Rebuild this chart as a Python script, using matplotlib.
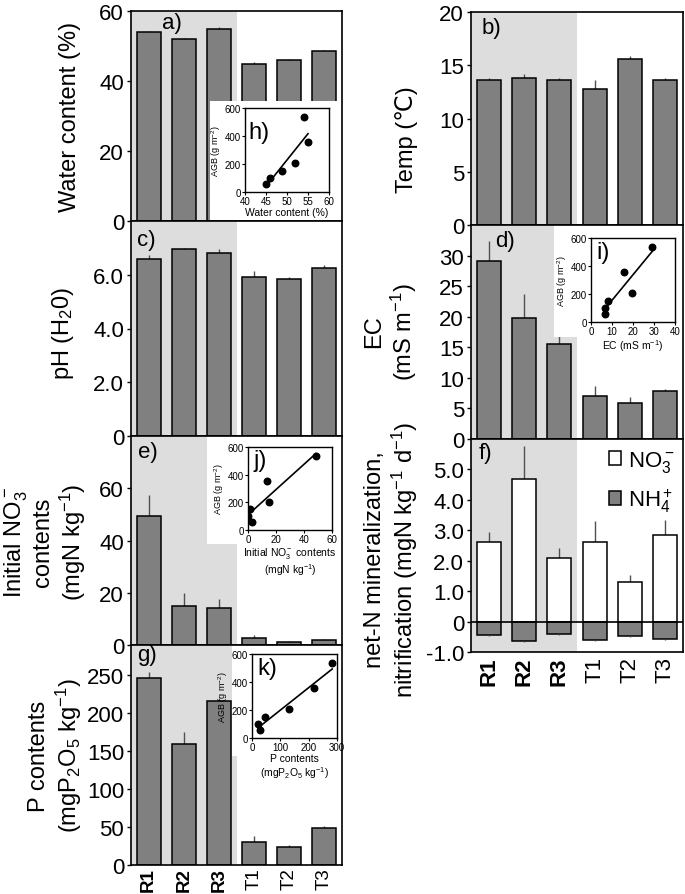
import numpy as np
import matplotlib
matplotlib.use('Agg')
import matplotlib.pyplot as plt
from matplotlib.patches import Rectangle, Patch

plt.rcParams['font.family'] = ['Liberation Sans', 'DejaVu Sans']
plt.rcParams['mathtext.fontset'] = 'custom'
plt.rcParams['mathtext.rm'] = 'Liberation Sans'
plt.rcParams['mathtext.it'] = 'Liberation Sans:italic'
plt.rcParams['mathtext.bf'] = 'Liberation Sans:bold'

# ---------------- data ----------------
sites = ['R1', 'R2', 'R3', 'T1', 'T2', 'T3']
water = [54.0, 52.0, 55.0, 45.0, 46.0, 48.7]
water_err = [0.3, 0.3, 0.3, 0.3, 0.3, 0.3]
temp = [13.6, 13.8, 13.6, 12.8, 15.6, 13.6]
temp_err = [0.2, 0.4, 0.2, 0.8, 0.3, 0.2]
ph = [6.60, 6.97, 6.82, 5.90, 5.83, 6.25]
ph_err = [0.12, 0.04, 0.15, 0.25, 0.08, 0.12]
ec = [29.1, 19.8, 15.5, 7.1, 5.9, 7.9]
ec_err = [3.3, 3.9, 1.7, 1.5, 1.0, 0.3]
no3 = [49.5, 15.0, 14.2, 2.7, 1.2, 2.0]
no3_err = [7.8, 5.0, 3.3, 1.0, 0.3, 0.3]
nitr = [2.63, 4.67, 2.08, 2.63, 1.30, 2.83]
nitr_err = [0.33, 1.10, 0.33, 0.66, 0.23, 0.51]
ammon = [-0.43, -0.63, -0.42, -0.60, -0.48, -0.56]
ammon_err = [0.03, 0.03, 0.03, 0.03, 0.03, 0.03]
p_cont = [247, 160, 216, 30, 24, 49]
p_err = [8, 15, 4, 8, 2, 2]

agb = [535, 205, 355, 57, 98, 153]
h_x = [54.0, 52.0, 55.0, 45.0, 46.0, 48.8]
i_x = [29.2, 19.5, 15.5, 6.9, 6.6, 8.2]
j_x = [48.5, 14.8, 13.8, 2.9, 0.3, 1.2]
k_x = [283, 130, 220, 28, 22, 47]

# ---------------- style ----------------
W, H = 685, 895
GRAY = '#808080'
SHADE = '#dddddd'
ERR = '#505050'
FS = 16

fig = plt.figure(figsize=(W / 100, H / 100), dpi=100)


def px_axes(x0, x1, y0, y1):
    return fig.add_axes([x0 / W, 1 - y1 / H, (x1 - x0) / W, (y1 - y0) / H])


def style_main(ax):
    for s in ax.spines.values():
        s.set_linewidth(1.2)
        s.set_zorder(10)
    ax.tick_params(axis='y', direction='out', length=3, width=1, labelsize=FS, pad=2)
    ax.tick_params(axis='x', length=0, labelsize=FS, pad=3)


def bar_panel(ax, vals, errs, ylim, yticks, yticklabels, letter, lpos, bottom=False):
    x = np.arange(len(sites))
    ax.axvspan(-0.5, 2.5, color=SHADE, zorder=0, lw=0)
    ax.bar(x, vals, width=0.68, color=GRAY, edgecolor='black', linewidth=1.1, zorder=2)
    ax.errorbar(x, vals, yerr=[np.zeros(len(x)), errs], fmt='none', ecolor=ERR,
                elinewidth=1, capsize=0, zorder=1.9)
    ax.set_xlim(-0.5, 5.5)
    ax.set_ylim(*ylim)
    ax.set_yticks(yticks)
    ax.set_yticklabels(yticklabels)
    style_main(ax)
    ax.text(lpos[0], lpos[1], letter, transform=ax.transAxes, fontsize=FS, va='top', ha='left', zorder=12)
    ax.set_xticks(x)
    if bottom:
        ax.set_xticklabels(sites, rotation=90)
        ax.tick_params(axis='x', labelsize=FS - 2.5, pad=1.5)
        for lab in ax.get_xticklabels()[:3]:
            lab.set_fontweight('bold')
    else:
        ax.set_xticklabels([])


def white_box(ax, x0, y0, x1, y1):
    ax.add_patch(Rectangle((x0, y0), x1 - x0, y1 - y0, transform=ax.transAxes,
                           facecolor='white', edgecolor='none', zorder=5))


def inset(box, xs, xlim, xticks, xlabel, letter, lpos):
    ia = px_axes(*box)
    ia.scatter(xs, agb, s=22, color='black', zorder=3)
    coef = np.polyfit(xs, agb, 1)
    xx = np.array([min(xs), max(xs)])
    ia.plot(xx, np.polyval(coef, xx), color='black', lw=1.2)
    ia.set_xlim(*xlim)
    ia.set_ylim(0, 600)
    ia.set_xticks(xticks)
    ia.set_yticks([0, 200, 400, 600])
    ia.tick_params(labelsize=7, length=2, width=0.8, pad=1)
    for s in ia.spines.values():
        s.set_linewidth(1.0)
    ia.set_ylabel('AGB (g m$^{-2}$)', fontsize=6.5, labelpad=1)
    ia.set_xlabel(xlabel, fontsize=7.5, labelpad=0.5, linespacing=1.1)
    ia.text(lpos[0], lpos[1], letter, transform=ia.transAxes, fontsize=FS + 1, va='top', ha='left')
    return ia


# ---------------- left column ----------------
LX0, LX1 = 131, 342
ax_a = px_axes(LX0, LX1, 12, 222)
ax_c = px_axes(LX0, LX1, 222, 437)
ax_e = px_axes(LX0, LX1, 437, 646)
ax_g = px_axes(LX0, LX1, 646, 866)

# ---------------- right column ----------------
RX0, RX1 = 471, 683
ax_b = px_axes(RX0, RX1, 13, 226)
ax_d = px_axes(RX0, RX1, 226, 440)
ax_f = px_axes(RX0, RX1, 440, 653)

bar_panel(ax_a, water, water_err, (0, 60), [0, 20, 40, 60], ['0', '20', '40', '60'], 'a)', (0.145, 0.995))
bar_panel(ax_c, ph, ph_err, (0, 8), [0, 2, 4, 6], ['0', '2.0', '4.0', '6.0'], 'c)', (0.03, 0.965))
bar_panel(ax_e, no3, no3_err, (0, 80), [0, 20, 40, 60], ['0', '20', '40', '60'], 'e)', (0.035, 0.975))
bar_panel(ax_g, p_cont, p_err, (0, 290), [0, 50, 100, 150, 200, 250],
          ['0', '50', '100', '150', '200', '250'], 'g)', (0.03, 1.005), bottom=True)
bar_panel(ax_b, temp, temp_err, (0, 20), [0, 5, 10, 15, 20], ['0', '5', '10', '15', '20'], 'b)', (0.05, 0.975))
bar_panel(ax_d, ec, ec_err, (0, 35), [0, 5, 10, 15, 20, 25, 30],
          ['0', '5', '10', '15', '20', '25', '30'], 'd)', (0.115, 0.975))

# panel f: net N mineralization / nitrification
xf = np.arange(len(sites))
ax_f.axvspan(-0.5, 2.5, color=SHADE, zorder=0, lw=0)
ax_f.bar(xf, nitr, width=0.68, color='white', edgecolor='black', linewidth=1.1, zorder=2)
ax_f.bar(xf, ammon, width=0.68, color=GRAY, edgecolor='black', linewidth=1.1, zorder=2)
ax_f.errorbar(xf, nitr, yerr=[np.zeros(6), nitr_err], fmt='none', ecolor=ERR, elinewidth=1, capsize=0, zorder=1.9)
ax_f.errorbar(xf, ammon, yerr=[ammon_err, np.zeros(6)], fmt='none', ecolor=ERR, elinewidth=1, capsize=0, zorder=3)
ax_f.axhline(0, color='black', lw=1.2, zorder=4)
ax_f.set_xlim(-0.5, 5.5)
ax_f.set_ylim(-1, 6)
ax_f.set_yticks([-1, 0, 1, 2, 3, 4, 5])
ax_f.set_yticklabels(['-1.0', '0', '1.0', '2.0', '3.0', '4.0', '5.0'])
style_main(ax_f)
ax_f.set_xticks(xf)
ax_f.set_xticklabels(sites, rotation=90)
for lab in ax_f.get_xticklabels()[:3]:
    lab.set_fontweight('bold')
ax_f.text(0.035, 0.985, 'f)', transform=ax_f.transAxes, fontsize=FS, va='top', ha='left', zorder=12)
leg = ax_f.legend(handles=[Patch(facecolor='white', edgecolor='black', lw=1.1),
                           Patch(facecolor=GRAY, edgecolor='black', lw=1.1)],
                  labels=['NO$_3^-$', 'NH$_4^+$'], loc='upper right', bbox_to_anchor=(1.0, 0.995),
                  frameon=False, fontsize=FS, handlelength=0.55, handleheight=0.55,
                  handletextpad=0.3, labelspacing=0.55, borderaxespad=0)

# ---------------- white boxes behind insets ----------------
white_box(ax_a, 0.374, 0.0, 1.0, 0.571)
white_box(ax_d, 0.392, 0.477, 1.0, 1.0)
white_box(ax_e, 0.36, 0.483, 1.0, 1.0)
white_box(ax_g, 0.479, 0.495, 1.0, 1.0)

# ---------------- insets ----------------
inset((245, 329, 109, 193), h_x, (40, 60), [40, 45, 50, 55, 60], 'Water content (%)', 'h)', (0.04, 0.85))
inset((591, 675, 239, 323), i_x, (0, 40), [0, 10, 20, 30, 40], 'EC (mS m$^{-1}$)', 'i)', (0.06, 0.97))
inset((248, 332, 448, 531), j_x, (0, 60), [0, 20, 40, 60],
      'Initial NO$_3^-$ contents\n(mgN kg$^{-1}$)', 'j)', (0.06, 0.97))
inset((252, 337, 655, 739), k_x, (0, 300), [0, 100, 200, 300],
      'P contents\n(mgP$_2$O$_5$ kg$^{-1}$)', 'k)', (0.06, 0.97))

# ---------------- y labels ----------------
def ylab(x, y, s):
    fig.text(x / W, 1 - y / H, s, rotation=90, ha='center', va='center', fontsize=FS + 1,
             multialignment='center', linespacing=1.15)

ylab(70, 117, 'Water content (%)')
ylab(63, 333, 'pH (H$_2$0)')
ylab(45, 542, 'Initial NO$_3^-$\ncontents\n(mgN kg$^{-1}$)')
ylab(56, 756, 'P contents\n(mgP$_2$O$_5$ kg$^{-1}$)')
ylab(407, 140, 'Temp (\u2103)')
ylab(391, 332, 'EC\n(mS m$^{-1}$)')
ylab(392, 560, 'net-N mineralization,\nnitrification (mgN kg$^{-1}$ d$^{-1}$)')

fig.savefig('out.png', dpi=100)
